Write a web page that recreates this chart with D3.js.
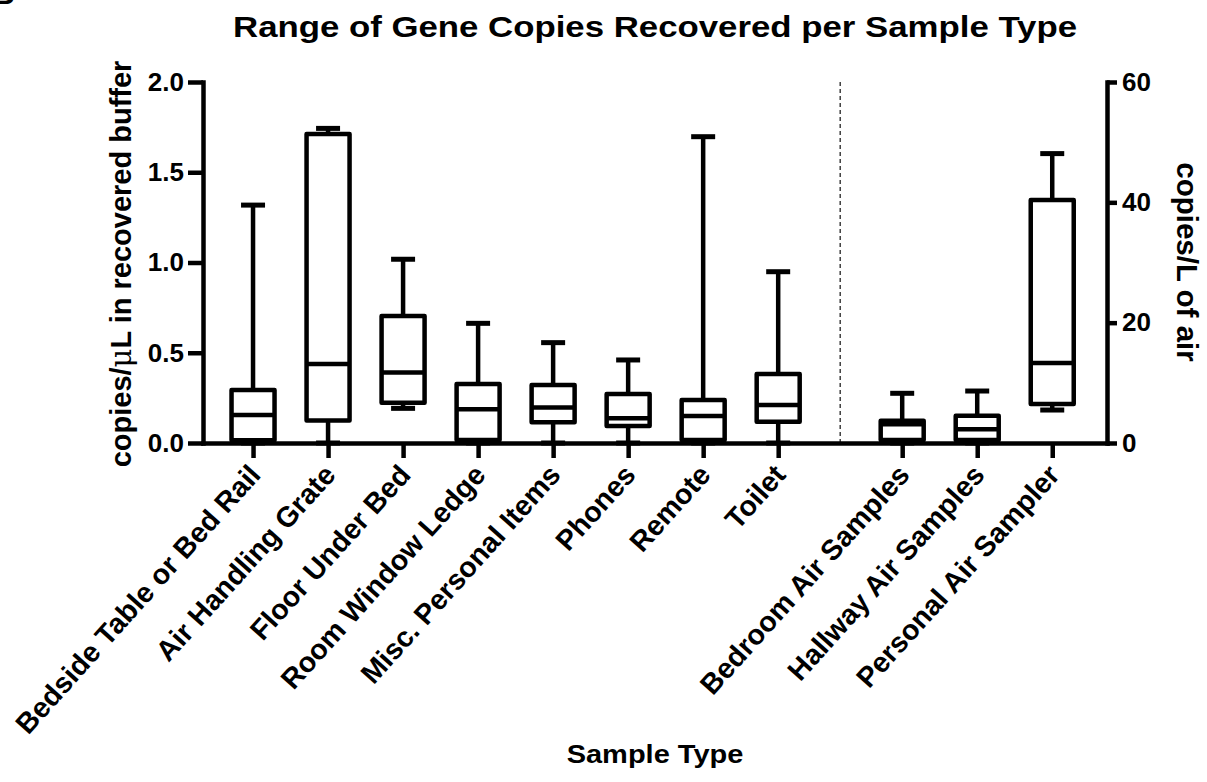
<!DOCTYPE html>
<html>
<head>
<meta charset="utf-8">
<script src="https://cdn.jsdelivr.net/npm/d3@7"></script>
<style>
  body { margin: 0; background: #fff; }
  text { font-family: "Liberation Sans", Arial, sans-serif; font-weight: bold; fill: #000; }
</style>
</head>
<body>
<script>
// Box plot data (five-number summaries)
var surfaceNames = ["Bedside Table or Bed Rail", "Air Handling Grate", "Floor Under Bed",
  "Room Window Ledge", "Misc. Personal Items", "Phones", "Remote", "Toilet"];
var airNames = ["Bedroom Air Samples", "Hallway Air Samples", "Personal Air Sampler"];

// surfaces: copies/uL in recovered buffer (left axis)
var surfaceMin = [0.0, 0.0, 0.192, 0.0, 0.0, 0.0, 0.0, 0.0];
var surfaceQ1 = [0.015, 0.124, 0.223, 0.017, 0.115, 0.094, 0.017, 0.118];
var surfaceMed = [0.155, 0.438, 0.39, 0.187, 0.196, 0.137, 0.15, 0.21];
var surfaceQ3 = [0.294, 1.712, 0.704, 0.327, 0.321, 0.271, 0.238, 0.382];
var surfaceMax = [1.318, 1.743, 1.018, 0.663, 0.556, 0.46, 1.697, 0.949];

// air: copies/L of air (right axis)
var airMin = [0.0, 0.0, 5.48];
var airQ1 = [0.5, 0.5, 6.48];
var airMed = [3.1, 2.27, 13.3];
var airQ3 = [3.71, 4.54, 40.4];
var airMax = [8.26, 8.64, 48.1];

var leftTicks = [0, 0.5, 1.0, 1.5, 2.0];
var rightTicks = [0, 20, 40, 60];

var W = 1207, H = 782;
var plot = { left: 203, right: 1107, top: 82, bottom: 443 };
var gap = 0.653; // extra space before the air group

var svg = d3.select("body").append("svg").attr("width", W).attr("height", H);

var x = d3.scaleLinear().domain([0, 12.05]).range([plot.left, plot.right]);
var yL = d3.scaleLinear().domain([0, 2]).range([plot.bottom, plot.top]);
var yR = d3.scaleLinear().domain([0, 60]).range([plot.bottom, plot.top]);

// build one list of boxes, each knowing its own axis
var boxes = [];
surfaceNames.forEach(function (n, i) {
  boxes.push({ name: n, min: surfaceMin[i], q1: surfaceQ1[i], med: surfaceMed[i], q3: surfaceQ3[i], max: surfaceMax[i], y: yL });
});
airNames.forEach(function (n, i) {
  boxes.push({ name: n, min: airMin[i], q1: airQ1[i], med: airMed[i], q3: airQ3[i], max: airMax[i], y: yR });
});
boxes.forEach(function (d, i) { d.pos = i + 0.667 + (i >= surfaceNames.length ? gap : 0); });

var boxW = 43, capW = 24, sw = 4.5;

// panel letter cut off at the corner
svg.append("text").attr("x", -7).attr("y", 4).attr("font-size", 30).text("B");

// title
svg.append("text")
  .attr("transform", "translate(655,37) scale(1.16,1)")
  .attr("text-anchor", "middle")
  .attr("font-size", 30)
  .text("Range of Gene Copies Recovered per Sample Type");

// dashed divider between groups
var divX = x((boxes[7].pos + boxes[8].pos) / 2);
svg.append("line")
  .attr("x1", divX).attr("x2", divX)
  .attr("y1", plot.top).attr("y2", plot.bottom)
  .attr("stroke", "#222").attr("stroke-width", 1.3)
  .attr("stroke-dasharray", "4,3");

var g = svg.append("g");

// whiskers
g.selectAll(".whisk").data(boxes).enter().append("line")
  .attr("x1", d => x(d.pos)).attr("x2", d => x(d.pos))
  .attr("y1", d => d.y(d.min)).attr("y2", d => d.y(d.max))
  .attr("stroke", "#000").attr("stroke-width", sw);

// caps
["min", "max"].forEach(function (k) {
  g.selectAll(".cap-" + k).data(boxes).enter().append("line")
    .attr("x1", d => x(d.pos) - capW / 2).attr("x2", d => x(d.pos) + capW / 2)
    .attr("y1", d => d.y(d[k])).attr("y2", d => d.y(d[k]))
    .attr("stroke", "#000").attr("stroke-width", 5);
});

// boxes
g.selectAll(".box").data(boxes).enter().append("rect")
  .attr("x", d => x(d.pos) - boxW / 2)
  .attr("width", boxW)
  .attr("y", d => d.y(d.q3))
  .attr("height", d => d.y(d.q1) - d.y(d.q3))
  .attr("fill", "#fff").attr("stroke", "#000").attr("stroke-width", sw)
  .attr("stroke-linejoin", "round");

// medians
g.selectAll(".med").data(boxes).enter().append("line")
  .attr("x1", d => x(d.pos) - boxW / 2).attr("x2", d => x(d.pos) + boxW / 2)
  .attr("y1", d => d.y(d.med)).attr("y2", d => d.y(d.med))
  .attr("stroke", "#000").attr("stroke-width", sw);

// axes
function styleAxis(sel) {
  sel.select(".domain").attr("stroke-width", sw).attr("stroke-linecap", "square");
  sel.selectAll(".tick line").attr("stroke-width", sw);
  sel.selectAll(".tick text").attr("font-size", 26).attr("font-family", "Liberation Sans, Arial, sans-serif").attr("font-weight", "bold");
}

svg.append("g")
  .attr("transform", "translate(" + plot.left + ",0)")
  .call(d3.axisLeft(yL).tickValues(leftTicks).tickFormat(d3.format(".1f")).tickSize(15).tickSizeOuter(0).tickPadding(4))
  .call(styleAxis);

svg.append("g")
  .attr("transform", "translate(" + plot.right + ",0)")
  .call(d3.axisRight(yR).tickValues(rightTicks).tickSize(10).tickSizeOuter(0).tickPadding(5))
  .call(styleAxis);

svg.append("g")
  .attr("transform", "translate(0," + plot.bottom + ")")
  .call(d3.axisBottom(x).tickValues(boxes.map(d => d.pos)).tickFormat("").tickSize(15).tickSizeOuter(0))
  .call(styleAxis);

// category labels
svg.selectAll(".xlab").data(boxes).enter().append("text")
  .attr("transform", d => "translate(" + (x(d.pos) + 9) + "," + (plot.bottom + 33) + ") rotate(-48)")
  .attr("text-anchor", "end")
  .attr("font-size", 28.5)
  .text(d => d.name);

// axis titles
var lt = svg.append("text")
  .attr("transform", "translate(131,264) rotate(-90)")
  .attr("text-anchor", "middle")
  .attr("font-size", 29);
lt.append("tspan").text("copies/");
lt.append("tspan").attr("font-weight", "normal").attr("font-family", "DejaVu Serif").text("\u03bc");
lt.append("tspan").text("L in recovered buffer");

svg.append("text")
  .attr("transform", "translate(1177,262) rotate(90)")
  .attr("text-anchor", "middle")
  .attr("font-size", 29.5)
  .text("copies/L of air");

svg.append("text")
  .attr("transform", "translate(655,763) scale(1.16,1)")
  .attr("text-anchor", "middle")
  .attr("font-size", 25)
  .text("Sample Type");
</script>
</body>
</html>
